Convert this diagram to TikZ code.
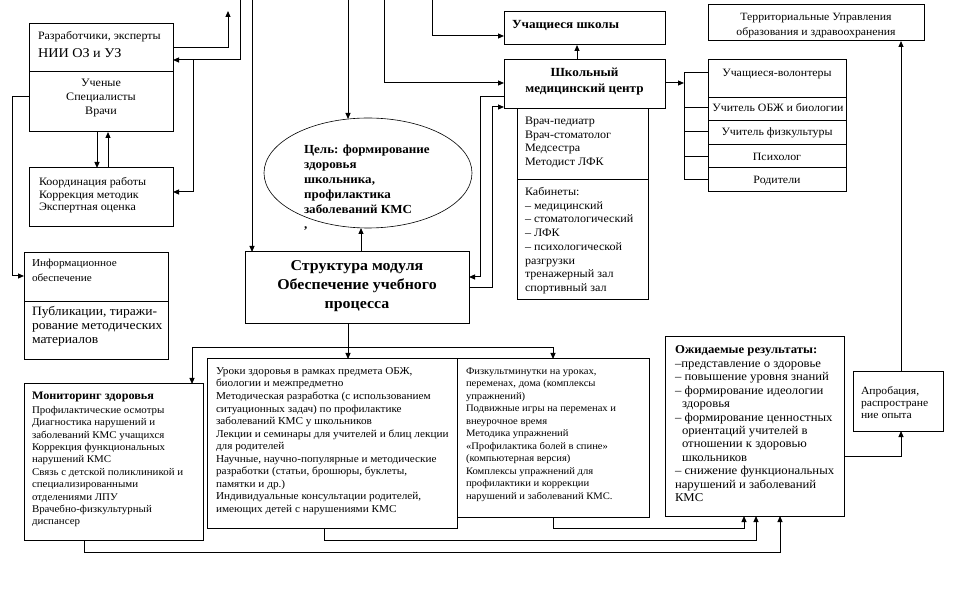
\documentclass[tikz,border=0pt]{standalone}
\usepackage{fontspec}
\setmainfont[FakeStretch=1.06]{Liberation Serif}
\usetikzlibrary{arrows.meta,shapes.geometric,calc}
\newcommand\fst{\rule{0pt}{1em}}
\newcommand\fs[2]{\fontsize{#1}{#2}\selectfont}
\begin{document}
\begin{tikzpicture}[x=1pt,y=-1pt,
  ln/.style={line width=1pt},
  arr/.style={ln,-{Triangle[length=6pt,width=5pt]}},
  bx/.style={draw,line width=1pt,anchor=north west,inner sep=0pt,outer sep=0pt},
  tx/.style={anchor=north west,inner sep=0pt,outer sep=0pt,align=left},
  txc/.style={anchor=north,inner sep=0pt,outer sep=0pt,align=center}]
\fill[white] (0,0) rectangle (961,601);
\useasboundingbox (0,0) rectangle (961,601);

% ---- boxes ----
\node[bx,minimum width=144pt,minimum height=108pt] (razr) at (29,24) {};
\node[bx,minimum width=144pt,minimum height=59pt] (koord) at (29,168) {};
\node[bx,minimum width=144pt,minimum height=107pt] (info) at (24,253) {};
\node[draw,ellipse,line width=0.6pt,minimum width=208pt,minimum height=110pt,inner sep=0pt,outer sep=0pt] (cel) at (368,173) {};
\node[bx,minimum width=224pt,minimum height=72pt] (struct) at (245,252) {};
\node[bx,minimum width=161pt,minimum height=33pt] (uch) at (504,12) {};
\node[bx,minimum width=161pt,minimum height=49pt] (shmc) at (504,60) {};
\node[bx,minimum width=131pt,minimum height=191pt] (staff) at (517,109) {};
\node[bx,minimum width=138pt,minimum height=132pt] (vol) at (708,60) {};
\node[bx,minimum width=216pt,minimum height=36pt] (terr) at (708,5) {};
\node[bx,minimum width=179pt,minimum height=156pt] (monit) at (24,384) {};
\node[bx,minimum width=250pt,minimum height=169pt] (uroki) at (207,359) {};
\node[bx,minimum width=192pt,minimum height=158pt] (fizk) at (457,359) {};
\node[bx,minimum width=179pt,minimum height=179pt] (ozhid) at (665,337) {};
\node[bx,minimum width=90pt,minimum height=59pt] (aprob) at (853,372) {};

% dividers
\draw[ln] (razr.west |- 0,72) -- (razr.east |- 0,72);
\draw[ln] (info.west |- 0,302) -- (info.east |- 0,302);
\draw[ln] (staff.west |- 0,180) -- (staff.east |- 0,180);
\foreach \yy in {98,121,145,168} \draw[ln] (vol.west |- 0,\yy) -- (vol.east |- 0,\yy);

% ---- texts ----
\node[tx,font=\fs{11.3}{13}] (t-razr1) at (38,28.3) {\fst Разработчики, эксперты};
\node[tx,font=\fs{13.4}{15}] (t-razr2) at (38,43.9) {\fst НИИ ОЗ и УЗ};
\node[txc,font=\fs{11.4}{14}] (t-razr3) at (101,75.2) {\fst Ученые\\Специалисты\\Врачи};
\node[tx,font=\fs{11.3}{12.5}] (t-koord) at (39,174.3) {\fst Координация работы\\Коррекция методик\\Экспертная оценка};
\node[tx,font=\fs{10.6}{15}] (t-info1) at (32,255.8) {\fst Информационное\\обеспечение};
\node[tx,font=\fs{12.8}{14}] (t-info2) at (32,302.3) {\fst Публикации, тиражи-\\рование методических\\материалов};
\node[tx,font=\bfseries\fs{12.3}{15}] (t-cel) at (304,141.6) {\fst Цель: формирование\\здоровья\\школьника,\\профилактика\\заболеваний КМС\\,};
\node[txc,font=\bfseries\fs{15}{19}] (t-struct) at (357,255.8) {\fst Структура модуля\\Обеспечение учебного\\процесса};
\node[tx,font=\bfseries\fs{12.4}{14}] (t-uch) at (512,16.6) {\fst Учащиеся школы};
\node[txc,font=\bfseries\fs{12.4}{16}] (t-shmc) at (584.5,64.2) {\fst Школьный\\медицинский центр};
\node[tx,font=\fs{11.4}{13.6}] (t-staff1) at (525,113.2) {\fst Врач-педиатр\\Врач-стоматолог\\Медсестра\\Методист ЛФК};
\node[tx,font=\fs{11.4}{13.7}] (t-staff2) at (525,184.2) {\fst Кабинеты:\\– медицинский\\– стоматологический\\– ЛФК\\– психологической\\разгрузки\\тренажерный зал\\спортивный зал};
\node[txc,font=\fs{11.2}{13}] (t-vol1) at (777,65.4) {\fst Учащиеся-волонтеры};
\node[txc,font=\fs{11.2}{13}] (t-vol2) at (778,100.4) {\fst Учитель ОБЖ и биологии};
\node[txc,font=\fs{11.2}{13}] (t-vol3) at (777,124.4) {\fst Учитель физкультуры};
\node[txc,font=\fs{11.2}{13}] (t-vol4) at (777,149.4) {\fst Психолог};
\node[txc,font=\fs{11.2}{13}] (t-vol5) at (777,172.4) {\fst Родители};
\node[txc,font=\fs{11.1}{15}] (t-terr) at (816,9.4) {\fst Территориальные Управления\\образования и здравоохранения};
\node[tx,font=\fs{11}{11.8}] (t-aprob) at (861,383.5) {\fst Апробация,\\распростране\\ние опыта};
\node[tx,font=\fs{12}{13.45}] (t-ozhid) at (675,341.8) {\fst\textbf{Ожидаемые результаты:}\\–представление о здоровье\\– повышение уровня знаний\\– формирование идеологии\\\hspace*{7pt}здоровья\\– формирование ценностных\\\hspace*{7pt}ориентаций учителей в\\\hspace*{7pt}отношении к здоровью\\\hspace*{7pt}школьников\\– снижение функциональных\\нарушений и заболеваний\\КМС};
\node[tx,font=\bfseries\fs{11.5}{13}] (t-monit1) at (32,388.2) {\fst Мониторинг здоровья};
\node[tx,font=\fs{10.3}{12.4}] (t-monit2) at (32,403) {\fst Профилактические осмотры\\Диагностика нарушений и\\заболеваний КМС учащихся\\Коррекция функциональных\\нарушений КМС\\Связь с детской поликлиникой и\\специализированными\\отделениями ЛПУ\\Врачебно-физкультурный\\диспансер};
\node[tx,font=\fs{10.6}{12.55}] (t-uroki) at (216,363.8) {\fst Уроки здоровья в рамках предмета ОБЖ,\\биологии и межпредметно\\Методическая разработка (с использованием\\ситуационных задач) по профилактике\\заболеваний КМС у школьников\\Лекции и семинары для учителей и блиц лекции\\для родителей\\Научные, научно-популярные и методические\\разработки (статьи, брошюры, буклеты,\\памятки и др.)\\Индивидуальные консультации родителей,\\имеющих детей с нарушениями КМС};
\node[tx,font=\fs{10}{12.5}] (t-fizk) at (466,364.2) {\fst Физкультминутки на уроках,\\переменах, дома (комплексы\\упражнений)\\Подвижные игры на переменах и\\внеурочное время\\Методика упражнений\\«Профилактика болей в спине»\\(компьютерная версия)\\Комплексы упражнений для\\профилактики и коррекции\\нарушений и заболеваний КМС.};

% ---- free-end coordinates ----
\coordinate (top1) at (228,11);
\coordinate (top2) at (240,0);
\coordinate (top5) at (252,0);
\coordinate (top6) at (348,0);
\coordinate (top8) at (384,0);
\coordinate (top9) at (432,0);
\coordinate (j1) at (193,60);
\coordinate (br) at (684,83);
\coordinate (hb) at (348,348);

% ---- connectors ----
\draw[arr] (razr.east |- 0,48) -| (top1);
\draw[arr] (top2) |- (razr.east |- 0,60);
\draw[arr] (j1) |- (koord.east |- 0,192);
\draw[arr] (razr.south -| 97,0) -- (koord.north -| 97,0);
\draw[arr] (koord.north -| 108,0) -- (razr.south -| 108,0);
\draw[arr] (razr.west |- 0,97) -- ++(-17,0) |- (info.west |- 0,276);
\draw[arr] (top5) -- (struct.north -| top5);
\draw[arr] (top6) -- ($(cel.north -| top6)+(0,1)$);
\draw[arr] (struct.north -| 361,0) -- (cel.south -| 361,0);
\draw[arr] (top8) |- (shmc.west |- 0,83);
\draw[arr] (top9) |- (uch.west |- 0,36);
\draw[arr] (shmc.west |- 0,97) -- ++(-24,0) |- (struct.east |- 0,277);
\draw[arr] (struct.east |- 0,288) -- ++(23,0) |- (shmc.west |- 0,107);
\draw[arr] (shmc.east |- 0,83) -- (br);
\draw[ln] (vol.west |- 0,73) -| (684,180) -- (vol.west |- 0,180);
\foreach \yy in {108,132,157} \draw[ln] (684,\yy) -- (vol.west |- 0,\yy);
\draw[arr] (shmc.north -| 577,0) -- (uch.south -| 577,0);
\draw[arr] (aprob.north -| 901,0) -- (terr.south -| 901,0);
\draw[arr] (ozhid.east |- 0,456) -| (aprob.south -| 901,0);
\draw[ln] (struct.south -| hb) -- (hb);
\draw[arr] (hb) -- (uroki.north -| hb);
\draw[arr] (hb) -| (monit.north -| 192,0);
\draw[arr] (hb) -| (fizk.north -| 553,0);
\draw[arr] (fizk.south -| 553,0) -- ++(0,11) -| (ozhid.south -| 744,0);
\draw[arr] (uroki.south -| 324,0) -- ++(0,12) -| (ozhid.south -| 756,0);
\draw[arr] (monit.south -| 84,0) -- ++(0,12) -| (ozhid.south -| 780,0);
\end{tikzpicture}
\end{document}
